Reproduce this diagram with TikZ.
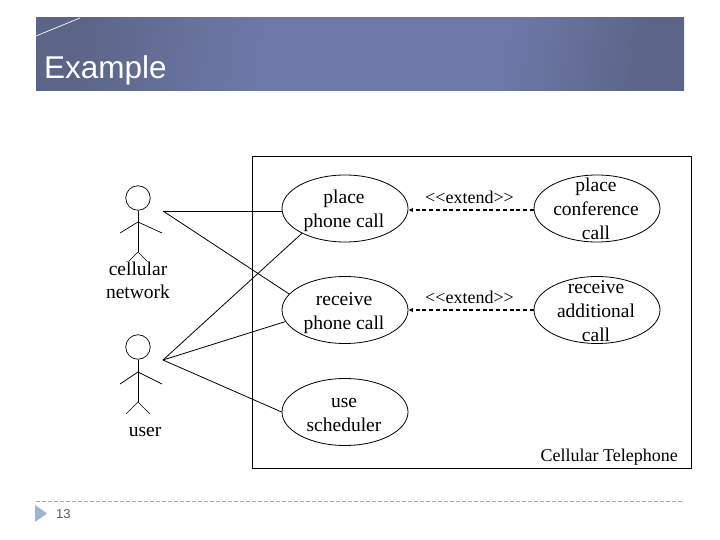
\documentclass[tikz,border=0pt]{standalone}
\usepackage{fontspec}
\setmainfont{Liberation Serif}
\newfontfamily\sansf{Liberation Sans}
\usetikzlibrary{shapes.geometric,arrows.meta}
\definecolor{banddark}{HTML}{5C6588}
\definecolor{bandmid}{HTML}{6E79A9}
\definecolor{tri}{HTML}{9DB4D2}
\definecolor{foot}{HTML}{A8A8A8}
\pgfdeclarehorizontalshading{bandshade}{100bp}{color(0bp)=(banddark); color(25bp)=(banddark); color(42bp)=(bandmid); color(62bp)=(bandmid); color(75bp)=(banddark); color(100bp)=(banddark)}
\tikzset{
  case/.style={draw=black,ellipse,minimum width=126pt,minimum height=67pt,inner sep=0pt,line width=.8pt},
  casetext/.style={inner sep=0pt,align=center,font=\fontsize{19.5}{24}\selectfont},
  lab/.style={inner sep=0pt,align=center,font=\fontsize{19.5}{23}\selectfont},
  small/.style={inner sep=0pt,font=\fontsize{18}{20}\selectfont},
  assoc/.style={black,line width=.8pt},
  ext/.style={black,line width=1.6pt,dash pattern=on 4pt off 2.7pt,-{Latex[length=4.5pt,width=4.5pt]}},
  stick/.style={black,line width=.7pt},
  head/.style={draw=black,circle,line width=.7pt,minimum size=24.5pt,inner sep=0pt}
}
\begin{document}
\begin{tikzpicture}[x=1pt,y=-1pt]
\useasboundingbox (0,0) rectangle (720,540);
% title band
\shade[shading=bandshade,shading angle=-10] (36,18) rectangle (684,91);
\coordinate (cA) at (36,36);
\coordinate (cB) at (80,18);
\draw[white,line width=.7pt] (cA) -- (cB);
\node[anchor=base west,inner sep=0pt,text=white,font=\sansf\fontsize{31.5}{36}\selectfont] (title) at (44,79) {Example};
% system box
\node[draw=black,line width=.9pt,minimum width=438.5pt,minimum height=312pt,inner sep=0pt] (sys) at (471.75,312) {};
% use cases
\node[case,label={[casetext,yshift=-2.5pt,xshift=-1pt]center:place\\phone call}] (place) at (345,208.5) {};
\node[case,label={[casetext,yshift=-3pt,xshift=-1pt]center:receive\\phone call}] (recv) at (345,310) {};
\node[case,label={[casetext,yshift=-3pt,xshift=-1pt]center:use\\scheduler}] (sched) at (345,412) {};
\node[case,label={[casetext,yshift=-0.5pt,xshift=-1pt]center:place\\conference\\call}] (conf) at (597,208.5) {};
\node[case,label={[casetext,yshift=-1pt,xshift=-1pt]center:receive\\additional\\call}] (addl) at (597,310) {};
% actor cellular network
\node[head] (h1) at (138,198) {};
\coordinate (s1) at (138,222);
\coordinate (hip1) at (138,252);
\coordinate (la1) at (120,233);
\coordinate (ra1) at (162,233);
\coordinate (ll1) at (126,264);
\coordinate (rl1) at (150,264);
\draw[stick] (h1) -- (hip1);
\draw[stick] (la1) -- (s1) -- (ra1);
\draw[stick] (ll1) -- (hip1) -- (rl1);
\node[lab,fill=white,inner sep=1pt] (n1) at (138,280) {cellular\\network};
% actor user
\node[head] (h2) at (138,347) {};
\coordinate (s2) at (138,372);
\coordinate (hip2) at (138,402);
\coordinate (la2) at (120,384);
\coordinate (ra2) at (162,384);
\coordinate (ll2) at (126,414);
\coordinate (rl2) at (150,414);
\draw[stick] (h2) -- (hip2);
\draw[stick] (la2) -- (s2) -- (ra2);
\draw[stick] (ll2) -- (hip2) -- (rl2);
\node[lab] (n2) at (145,432) {user};
% associations
\coordinate (a1) at (163,211);
\coordinate (a2) at (163,360);
\draw[assoc] (a1) -- (place.west |- a1);
\draw[assoc] (a1) -- (recv.164);
\draw[assoc] (a2) -- (place.210);
\draw[assoc] (a2) -- (recv.191);
\draw[assoc] (a2) -- (sched.west);
% extends
\draw[ext] ([yshift=-1.5pt]conf.west) -- ([yshift=-1.5pt]place.east);
\draw[ext] (addl.west) -- (recv.east);
\node[small,anchor=base] (e1) at (469.5,204) {<\kern0pt<extend>\kern0pt>};
\node[small,anchor=base] (e2) at (469.5,303) {<\kern0pt<extend>\kern0pt>};
\node[small,anchor=east] (sysl) at (678,457) {Cellular Telephone};
% footer
\coordinate (f1) at (36,501);
\coordinate (f2) at (684,501);
\draw[foot,line width=.6pt,dash pattern=on 4pt off 2pt] (f1) -- (f2);
\fill[tri] (35,505) -- (47,513.5) -- (35,522) -- cycle;
\node[anchor=base west,inner sep=0pt,text=black!65,font=\sansf\fontsize{13}{15}\selectfont] (num) at (56,518) {13};
\end{tikzpicture}
\end{document}
